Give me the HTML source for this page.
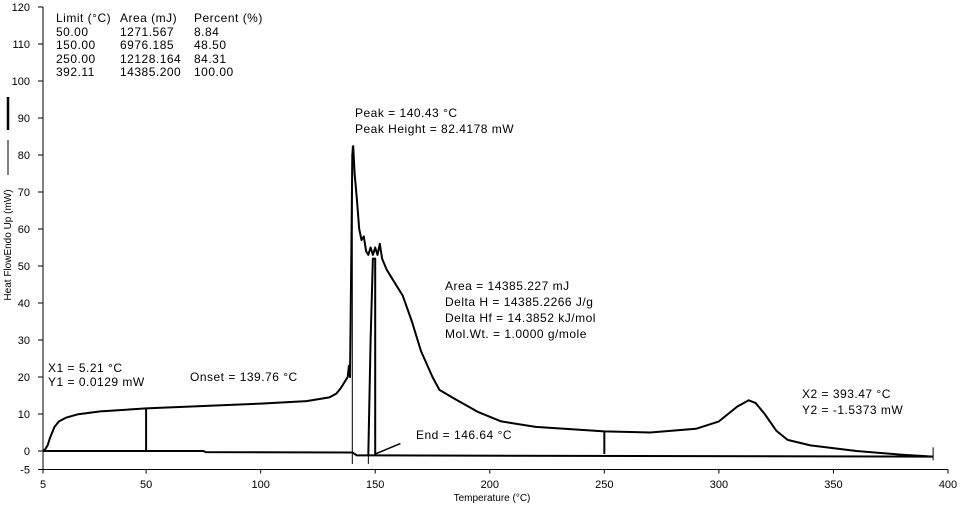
<!DOCTYPE html>
<html><head><meta charset="utf-8"><style>
body{margin:0;background:#fff;}
svg{display:block;font-family:"Liberation Sans",Arial,sans-serif;}
.ann text{letter-spacing:0.5px;}
</style></head><body>
<svg id="c" width="962" height="506">
<g id="axes"></g>
<g id="marks"></g>
<g class="ann" font-size="12" fill="#000">
<text x="56" y="22">Limit (°C)</text><text x="120" y="22">Area (mJ)</text><text x="194" y="22">Percent (%)</text>
<text x="56" y="36">50.00</text><text x="120" y="36">1271.567</text><text x="194" y="36">8.84</text>
<text x="56" y="49">150.00</text><text x="120" y="49">6976.185</text><text x="194" y="49">48.50</text>
<text x="56" y="63">250.00</text><text x="120" y="63">12128.164</text><text x="194" y="63">84.31</text>
<text x="56" y="76">392.11</text><text x="120" y="76">14385.200</text><text x="194" y="76">100.00</text>
<text x="355" y="117">Peak = 140.43 °C</text><text x="355" y="133">Peak Height = 82.4178 mW</text>
<text x="445" y="290">Area = 14385.227 mJ</text><text x="445" y="306">Delta H = 14385.2266 J/g</text>
<text x="445" y="322">Delta Hf = 14.3852 kJ/mol</text><text x="445" y="338">Mol.Wt. = 1.0000 g/mole</text>
<text x="48" y="372">X1 = 5.21 °C</text><text x="48" y="386">Y1 = 0.0129 mW</text>
<text x="190" y="381">Onset = 139.76 °C</text>
<text x="416" y="439">End = 146.64 °C</text>
<text x="802" y="398">X2 = 393.47 °C</text><text x="802" y="414">Y2 = -1.5373 mW</text>
</g>
<g>
<line x1="8" y1="97" x2="8" y2="130" stroke="#000" stroke-width="2.5"/>
<line x1="8" y1="140" x2="8" y2="175" stroke="#000" stroke-width="1"/>
</g>
<text font-size="10" transform="translate(11,245) rotate(-90)" text-anchor="middle">Heat FlowEndo Up (mW)</text>
<text font-size="10" x="492" y="501" text-anchor="middle">Temperature (°C)</text>
</svg>
<script>
const xTicks=[5,50,100,150,200,250,300,350,400];
const yTicks=[-5,0,10,20,30,40,50,60,70,80,90,100,110,120];
const curveT=[5,6,7,8,10,12,15,20,25,30,50,100,120,130,133,135,137,138,138.5,139,139.5,140,140.4,141,142,143,144,145,146,147,148,149,150,151,152,153,155,158,162,166,170,175,178,185,195,205,220,250,270,290,300,308,313,316,320,325,330,340,360,380,393.5];
const curveY=[0,0.5,1.5,3.5,6.5,8,9,9.9,10.3,10.7,11.5,12.8,13.5,14.5,15.5,17,19,20,23,20,50,80,82.4,75,68,60,57,58,54,53,55,53,55,53,56,52,49,46,42,35,27,20,16.5,14,10.5,8,6.5,5.3,5,6,8,12,13.7,13,10,5.5,3,1.5,0,-1,-1.5];
const baseT=[5,75,76,140,142,147,393.5];
const baseY=[0,0,-0.3,-0.4,-1.2,-1.2,-1.5];
const artT=[147,148,149,150,150];
const artY=[-1.2,30,52,52,-1];
const tangentT=[150,161];
const tangentY=[-0.8,2];
const markerT=[50,250,140,147,393.5];
const markerLo=[0,-0.8,-3.5,-3.5,-2.5];
const markerHi=[11.5,5.3,82.4,-1,1];
const NS="http://www.w3.org/2000/svg";
const X=t=>43+(t-5)*(905/395);
const Y=v=>451-v*3.7;
function mk(tag,attrs,parent){const e=document.createElementNS(NS,tag);for(const k in attrs)e.setAttribute(k,attrs[k]);parent.appendChild(e);return e;}
const ax=document.getElementById('axes'),mg=document.getElementById('marks');
let e=mk('line',{x1:43,y1:Y(120),x2:43,y2:Y(-5),stroke:'#000'},ax);


e=mk('line',{x1:43,y1:Y(-5),x2:X(400),y2:Y(-5),stroke:'#000'},ax);


yTicks.forEach(v=>{mk('line',{x1:38,x2:43,y1:Y(v),y2:Y(v),stroke:'#000'},ax);
const t=mk('text',{x:30,y:Y(v)+4,'text-anchor':'end','font-size':'11'},ax);t.textContent=v;

});
xTicks.forEach(v=>{mk('line',{x1:X(v),x2:X(v),y1:Y(-5),y2:Y(-5)+4,stroke:'#000'},ax);
const t=mk('text',{x:X(v),y:488,'text-anchor':'middle','font-size':'11'},ax);t.textContent=v;

});
function path(ts,vs,name,w){const d=ts.map((t,i)=>(i?'L':'M')+X(t).toFixed(1)+','+Y(vs[i]).toFixed(1)).join('');
const p=mk('path',{d:d,fill:'none',stroke:'#000','stroke-width':w,'stroke-linejoin':'round'},mg);

}
path(curveT,curveY,'heat-flow-curve',2);
path(baseT,baseY,'baseline',2);
path(artT,artY,'cooling-trace',2);
path(tangentT,tangentY,'end-tangent',1.5);
markerT.forEach((t,i)=>{const l=mk('line',{x1:X(t),x2:X(t),y1:Y(markerLo[i]),y2:Y(markerHi[i]),stroke:'#000','stroke-width':i<2?2:1},mg);

});
</script>
</body></html>
